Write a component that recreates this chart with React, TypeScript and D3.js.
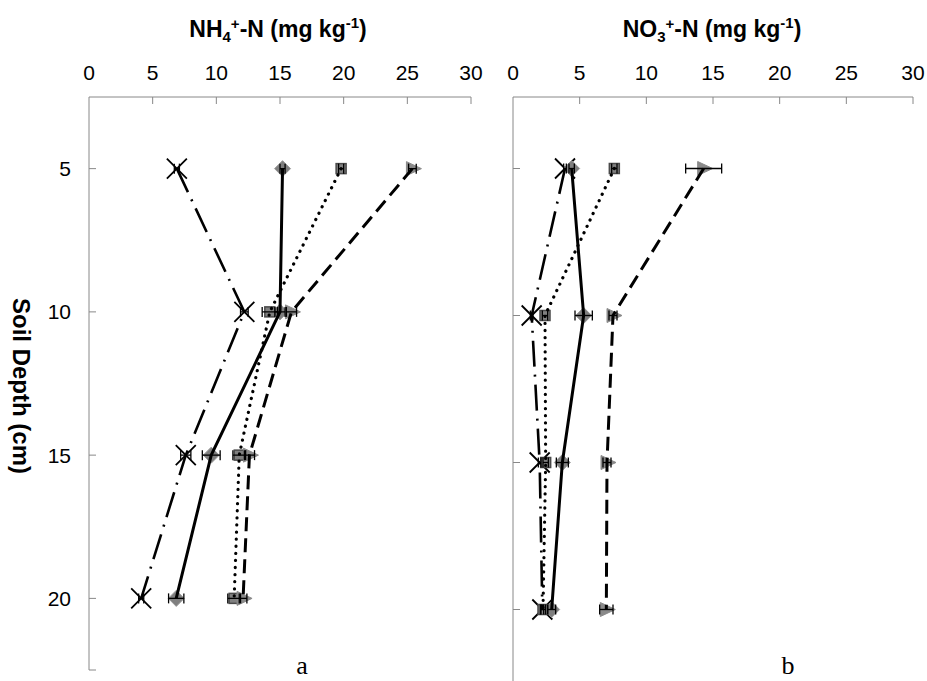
import React from "react";
import * as d3 from "d3";

const depths = [5, 10, 15, 20];
const xTicks = [0, 5, 10, 15, 20, 25, 30];
const yTicks = [5, 10, 15, 20];

// panel a, NH4+-N
const nh4Diamond = [15.2, 15.0, 9.6, 6.85];
const nh4DiamondErr = [0.2, 0.4, 0.7, 0.6];
const nh4Square = [19.8, 14.2, 11.8, 11.4];
const nh4SquareErr = [0.2, 0.6, 0.5, 0.5];
const nh4Triangle = [25.4, 15.9, 12.6, 12.1];
const nh4TriangleErr = [0.3, 0.4, 0.4, 0.3];
const nh4Cross = [6.9, 12.2, 7.6, 4.1];
const nh4CrossErr = [0.2, 0.3, 0.4, 0.2];

// panel b, NO3-N
const no3Diamond = [4.4, 5.3, 3.7, 2.9];
const no3DiamondErr = [0.2, 0.65, 0.45, 0.3];
const no3Square = [7.6, 2.4, 2.45, 2.25];
const no3SquareErr = [0.2, 0.2, 0.2, 0.2];
const no3Triangle = [14.3, 7.5, 7.05, 7.0];
const no3TriangleErr = [1.35, 0.3, 0.3, 0.5];
const no3Cross = [3.9, 1.4, 2.0, 2.2];
const no3CrossErr = [0.1, 0.1, 0.1, 0.1];

const styles = {
  diamond: { dash: "none", width: 3, cap: "butt" },
  square: { dash: "0.1 7", width: 3.2, cap: "round" },
  triangle: { dash: "14 7", width: 3, cap: "butt" },
  cross: { dash: "26 8 2 8", width: 2.6, cap: "butt" }
};

const axisColor = "#888888";
const sans = "'Liberation Sans', Arial, sans-serif";

const Marker = ({ type, cx, cy }) => {
  if (type === "diamond") {
    return (
      <path
        d={`M${cx},${cy - 8}L${cx + 8},${cy}L${cx},${cy + 8}L${cx - 8},${cy}Z`}
        fill="#7f7f7f"
        stroke="#9a9a9a"
        strokeWidth={1}
      />
    );
  }
  if (type === "square") {
    return (
      <rect
        x={cx - 5}
        y={cy - 5}
        width={10}
        height={10}
        fill="#808080"
        stroke="#4a4a4a"
        strokeWidth={1.5}
      />
    );
  }
  if (type === "triangle") {
    return (
      <path
        d={`M${cx - 6},${cy - 7}L${cx + 9},${cy}L${cx - 6},${cy + 7}Z`}
        fill="#8a8a8a"
        stroke="#8a8a8a"
        strokeWidth={1}
      />
    );
  }
  return (
    <path
      d={`M${cx - 10},${cy - 10}L${cx + 10},${cy + 10}M${cx + 10},${cy - 10}L${cx - 10},${cy + 10}`}
      stroke="black"
      strokeWidth={1.8}
      fill="none"
    />
  );
};

const Panel = ({ x0, x1, yTop, yBottom, axisBottom, title, titleX, series, yLabels, label, labelX }) => {
  const x = d3.scaleLinear().domain([0, 30]).range([x0, x1]);
  const y = d3.scaleLinear().domain([2.5, 22.5]).range([yTop, yBottom]);
  const line = (vals) =>
    d3
      .line()
      .x((v) => x(v))
      .y((v, i) => y(depths[i]))(vals);

  return (
    <g>
      <line x1={x0} y1={97} x2={x1} y2={97} stroke={axisColor} strokeWidth={1} />
      <line x1={x0} y1={97} x2={x0} y2={axisBottom} stroke={axisColor} strokeWidth={1} />
      {xTicks.slice(1).map((t) => (
        <line key={t} x1={x(t)} y1={97} x2={x(t)} y2={104} stroke={axisColor} strokeWidth={1} />
      ))}
      {xTicks.map((t) => (
        <text key={t} x={x(t)} y={80} textAnchor="middle" fontFamily={sans} fontSize={21}>
          {t}
        </text>
      ))}
      {yTicks.map((t) => (
        <line key={t} x1={x0} y1={y(t)} x2={x0 + 7} y2={y(t)} stroke={axisColor} strokeWidth={1} />
      ))}
      {axisBottom < 681 && (
        <line x1={x0} y1={axisBottom} x2={x0 + 7} y2={axisBottom} stroke={axisColor} strokeWidth={1} />
      )}
      {yLabels &&
        yTicks.map((t) => (
          <text key={t} x={71} y={y(t)} dy="0.36em" textAnchor="end" fontFamily={sans} fontSize={21}>
            {t}
          </text>
        ))}
      <text x={titleX} y={37} textAnchor="middle" fontFamily={sans} fontSize={23} fontWeight="bold">
        {title}
      </text>

      {series.map((s) =>
        s.values.map((v, i) => <Marker key={s.type + i} type={s.type} cx={x(v)} cy={y(depths[i])} />)
      )}
      {series.map((s) => (
        <path
          key={s.type}
          d={line(s.values)}
          fill="none"
          stroke="black"
          strokeWidth={styles[s.type].width}
          strokeDasharray={styles[s.type].dash}
          strokeLinecap={styles[s.type].cap}
        />
      ))}
      {series.map((s) =>
        s.values.map((v, i) => {
          const cy = y(depths[i]);
          const a = x(v - s.err[i]);
          const b = x(v + s.err[i]);
          return (
            <g key={s.type + "e" + i} stroke="black" strokeWidth={1.3}>
              <line x1={a} y1={cy} x2={b} y2={cy} />
              <line x1={a} y1={cy - 5} x2={a} y2={cy + 5} />
              <line x1={b} y1={cy - 5} x2={b} y2={cy + 5} />
            </g>
          );
        })
      )}
      <text
        x={labelX}
        y={674}
        textAnchor="middle"
        fontFamily="'Liberation Serif', 'Times New Roman', serif"
        fontSize={26}
      >
        {label}
      </text>
    </g>
  );
};

export default function App() {
  const seriesA = [
    { type: "cross", values: nh4Cross, err: nh4CrossErr },
    { type: "diamond", values: nh4Diamond, err: nh4DiamondErr },
    { type: "square", values: nh4Square, err: nh4SquareErr },
    { type: "triangle", values: nh4Triangle, err: nh4TriangleErr }
  ];
  const seriesB = [
    { type: "cross", values: no3Cross, err: no3CrossErr },
    { type: "diamond", values: no3Diamond, err: no3DiamondErr },
    { type: "square", values: no3Square, err: no3SquareErr },
    { type: "triangle", values: no3Triangle, err: no3TriangleErr }
  ];
  const small = 15;

  return (
    <svg
      width={927}
      height={681}
      style={{ position: "absolute", left: 0, top: 0, background: "white" }}
    >
      <rect x={0} y={0} width={927} height={681} fill="white" />
      <Panel
        x0={89}
        x1={471}
        yTop={97}
        yBottom={670}
        axisBottom={670}
        titleX={278}
        series={seriesA}
        yLabels={true}
        label="a"
        labelX={302}
        title={
          <>
            <tspan>NH</tspan>
            <tspan fontSize={small} dy={5}>4</tspan>
            <tspan fontSize={small} dy={-13}>+</tspan>
            <tspan dy={8}>-N (mg kg</tspan>
            <tspan fontSize={small} dy={-9}>-1</tspan>
            <tspan dy={9}>)</tspan>
          </>
        }
      />
      <Panel
        x0={513}
        x1={913}
        yTop={95}
        yBottom={683}
        axisBottom={681}
        titleX={712}
        series={seriesB}
        yLabels={false}
        label="b"
        labelX={788}
        title={
          <>
            <tspan>NO</tspan>
            <tspan fontSize={small} dy={5}>3</tspan>
            <tspan fontSize={small} dy={-13}>+</tspan>
            <tspan dy={8}>-N (mg kg</tspan>
            <tspan fontSize={small} dy={-9}>-1</tspan>
            <tspan dy={9}>)</tspan>
          </>
        }
      />
      <text
        transform="translate(13, 386) rotate(90)"
        textAnchor="middle"
        fontFamily={sans}
        fontSize={24}
        fontWeight="bold"
      >
        Soil Depth (cm)
      </text>
    </svg>
  );
}
